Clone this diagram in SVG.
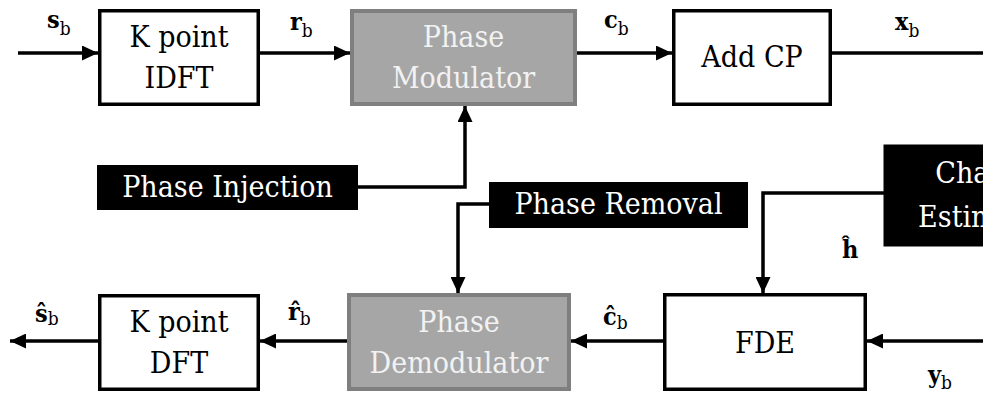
<svg xmlns="http://www.w3.org/2000/svg" width="983" height="394" viewBox="0 0 983 394">
<defs>
<marker id="ah" markerUnits="userSpaceOnUse" markerWidth="16" markerHeight="15" refX="16" refY="7.5" orient="auto">
<path d="M0,0 L16,7.5 L0,15 z" fill="#000"/>
</marker>
<style>
.box{fill:#fff;stroke:#000;stroke-width:3.5}
.gbox{fill:#a6a6a6;stroke:#7f7f7f;stroke-width:4}
.bbox{fill:#000;stroke:#000;stroke-width:1}
.t{font-family:'DejaVu Serif Condensed','DejaVu Serif','Liberation Serif',serif;font-size:30px;text-anchor:middle;fill:#000}
.tg{fill:#f2f2f2}
.tw{fill:#fff}
.lbl{font-family:'DejaVu Serif Condensed','DejaVu Serif','Liberation Serif',serif;font-size:25px;font-weight:bold;fill:#000}
.sub{font-size:19px;font-weight:normal}
.c{fill:none;stroke:#000;stroke-width:3.5}
.a{marker-end:url(#ah)}
</style>
</defs>
<rect width="983" height="394" fill="#fff"/>
<g id="connectors">
<path class="c a" d="M18,53 H98"/>
<path class="c a" d="M260,53 H350"/>
<path class="c a" d="M577,53 H672"/>
<path class="c" d="M832,53 H983"/>
<path class="c a" d="M357,187 H465 V106"/>
<path class="c a" d="M489,204 H458 V293"/>
<path class="c a" d="M884,193 H763 V293"/>
<path class="c a" d="M663,341 H571"/>
<path class="c a" d="M347,341 H260"/>
<path class="c a" d="M98,341 H10"/>
<path class="c a" d="M983,341 H867"/>
</g>
<g id="idft">
<rect class="box" x="99.75" y="10.75" width="158.5" height="93.5"/>
<text class="t" x="179" y="47">K point</text>
<text class="t" x="179" y="88">IDFT</text>
</g>
<g id="modulator">
<rect class="gbox" x="352" y="11" width="223" height="93"/>
<text class="t tg" x="463.5" y="47">Phase</text>
<text class="t tg" x="463.5" y="88">Modulator</text>
</g>
<g id="addcp">
<rect class="box" x="673.75" y="10.75" width="156.5" height="93.5"/>
<text class="t" x="752" y="67">Add CP</text>
</g>
<g id="injection">
<rect class="bbox" x="97.5" y="165.5" width="260" height="44"/>
<text class="t tw" x="227.5" y="197">Phase Injection</text>
</g>
<g id="removal">
<rect class="bbox" x="489.5" y="182.5" width="258" height="45"/>
<text class="t tw" x="618.5" y="214">Phase Removal</text>
</g>
<g id="channel">
<rect class="bbox" x="884" y="145" width="216" height="101"/>
<text class="t tw" x="992" y="183">Channel</text>
<text class="t tw" x="992" y="227">Estimation</text>
</g>
<g id="dft">
<rect class="box" x="99.75" y="295.75" width="158.5" height="93.5"/>
<text class="t" x="179" y="332">K point</text>
<text class="t" x="179" y="373">DFT</text>
</g>
<g id="demodulator">
<rect class="gbox" x="349" y="295" width="220" height="94"/>
<text class="t tg" x="459" y="332">Phase</text>
<text class="t tg" x="459" y="373">Demodulator</text>
</g>
<g id="fde">
<rect class="box" x="664.75" y="294.75" width="200.5" height="94.5"/>
<text class="t" x="765" y="353">FDE</text>
</g>
<g id="labels">
<text class="lbl" x="47" y="28">s<tspan class="sub" dy="7">b</tspan></text>
<text class="lbl" x="290" y="30">r<tspan class="sub" dy="7">b</tspan></text>
<text class="lbl" x="604" y="28">c<tspan class="sub" dy="7">b</tspan></text>
<text class="lbl" x="895" y="30">x<tspan class="sub" dy="7">b</tspan></text>
<text class="lbl" x="35" y="322">ŝ<tspan class="sub" dy="3">b</tspan></text>
<text class="lbl" x="288" y="320">r̂<tspan class="sub" dy="5">b</tspan></text>
<text class="lbl" x="603" y="325">ĉ<tspan class="sub" dy="4">b</tspan></text>
<text class="lbl" x="842" y="258">ĥ</text>
<text class="lbl" x="928" y="383">y<tspan class="sub" dy="6">b</tspan></text>
</g>
</svg>
